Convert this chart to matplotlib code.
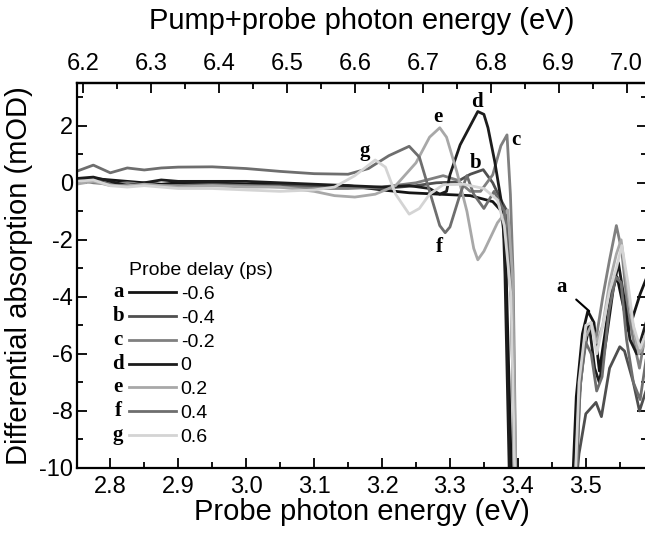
import numpy as np
import matplotlib
matplotlib.use("Agg")
import matplotlib.pyplot as plt
from matplotlib.ticker import MultipleLocator

plt.rcParams['font.family'] = ['Liberation Sans', 'DejaVu Sans']

# ---------------- data ----------------
series_letters = ['a', 'b', 'c', 'd', 'e', 'f', 'g']
delays = ['-0.6', '-0.4', '-0.2', '0', '0.2', '0.4', '0.6']
colors = ['#141414', '#4f4f4f', '#808080', '#1c1c1c', '#a8a8a8', '#6e6e6e', '#d4d4d4']

flat_x = [2.75, 2.775, 2.80, 2.825, 2.85, 2.875, 2.90, 2.95, 3.00, 3.05, 3.10]

a_flat = [0.10, 0.15, 0.10, 0.05, 0.00, -0.05, 0.00, 0.00, -0.05, -0.05, -0.10]
a_x = [3.15, 3.20, 3.24, 3.285, 3.33, 3.363, 3.376, 3.382, 3.39, 3.393]
a_y = [-0.10, -0.25, -0.35, -0.40, -0.45, -0.66, -1.0, -2.4, -9.8, -12]
a_rx = [3.478, 3.486, 3.495, 3.503, 3.512, 3.52, 3.53, 3.538, 3.546, 3.555, 3.563, 3.572, 3.58, 3.59]
a_ry = [-12, -7.5, -5.3, -4.5, -4.9, -6.6, -5.0, -3.8, -3.3, -4.3, -5.2, -4.5, -3.9, -3.3]

b_flat = [0.00, 0.10, -0.05, -0.10, -0.05, -0.10, -0.10, -0.05, -0.10, -0.10, -0.10]
b_x = [3.15, 3.20, 3.25, 3.28, 3.31, 3.33, 3.349, 3.363, 3.375, 3.384, 3.39, 3.396]
b_y = [-0.15, -0.20, -0.10, 0.00, 0.03, 0.30, 0.46, 0.00, -0.60, -1.0, -3.5, -12]
b_rx = [3.48, 3.49, 3.50, 3.515, 3.523, 3.535, 3.55, 3.557, 3.57, 3.579, 3.59]
b_ry = [-12, -9.5, -8.1, -7.7, -8.2, -6.5, -5.75, -5.9, -7.0, -8.0, -7.2]

c_flat = [0.10, 0.00, -0.05, 0.00, -0.05, -0.10, -0.10, -0.10, -0.10, -0.15, -0.20]
c_x = [3.15, 3.20, 3.25, 3.29, 3.31, 3.33, 3.345, 3.363, 3.375, 3.384, 3.389, 3.393, 3.398]
c_y = [-0.20, -0.15, 0.00, 0.25, 0.10, -0.30, -0.30, 0.28, 1.30, 1.68, -0.4, -3.2, -12]
c_rx = [3.483, 3.492, 3.50, 3.508, 3.515, 3.525, 3.535, 3.545, 3.553, 3.562, 3.57, 3.579, 3.59]
c_ry = [-12, -7.0, -5.2, -4.9, -5.5, -4.0, -2.7, -1.5, -2.4, -4.5, -5.5, -6.5, -5.0]

d_flat = [0.15, 0.20, 0.05, -0.10, 0.00, 0.10, 0.05, 0.05, 0.05, 0.00, -0.05]
d_x = [3.15, 3.20, 3.24, 3.27, 3.285, 3.295, 3.30, 3.315, 3.341, 3.35, 3.356, 3.366, 3.378, 3.381, 3.389]
d_y = [-0.10, -0.15, -0.10, -0.20, -0.40, -0.30, 0.28, 1.33, 2.50, 2.40, 1.93, 0.74, -1.0, -3.2, -12]
d_rx = [3.48, 3.488, 3.497, 3.505, 3.513, 3.52, 3.53, 3.54, 3.548, 3.556, 3.565, 3.575, 3.59]
d_ry = [-12, -8.0, -6.0, -5.0, -6.5, -7.0, -5.5, -3.8, -2.8, -4.0, -5.5, -6.0, -4.8]

e_flat = [-0.05, 0.05, -0.10, -0.10, -0.05, -0.10, -0.15, -0.10, -0.15, -0.15, -0.30]
e_x = [3.13, 3.16, 3.19, 3.22, 3.25, 3.27, 3.285, 3.295, 3.31, 3.325, 3.335, 3.341, 3.35, 3.37, 3.385, 3.392, 3.398]
e_y = [-0.45, -0.50, -0.40, -0.10, 0.70, 1.60, 1.93, 1.60, 0.40, -1.0, -2.3, -2.7, -2.4, -1.4, -0.95, -3.2, -12]
e_rx = [3.482, 3.49, 3.50, 3.508, 3.516, 3.525, 3.535, 3.545, 3.552, 3.56, 3.568, 3.578, 3.59]
e_ry = [-12, -7.5, -5.4, -5.0, -5.6, -5.0, -3.5, -2.5, -2.0, -3.5, -4.8, -6.0, -5.5]

f_flat = [0.40, 0.62, 0.35, 0.52, 0.45, 0.52, 0.55, 0.56, 0.50, 0.40, 0.32]
f_x = [3.15, 3.18, 3.21, 3.24, 3.255, 3.27, 3.285, 3.293, 3.30, 3.315, 3.325, 3.335, 3.35, 3.365, 3.38, 3.39, 3.397]
f_y = [0.30, 0.50, 0.95, 1.28, 0.90, -0.30, -1.50, -1.75, -1.55, -0.40, 0.25, -0.40, -0.90, -0.30, -1.0, -4.0, -12]
f_rx = [3.483, 3.492, 3.50, 3.508, 3.516, 3.524, 3.534, 3.544, 3.552, 3.56, 3.57, 3.58, 3.59]
f_ry = [-12, -7.0, -5.6, -6.0, -7.3, -6.8, -4.5, -3.3, -3.5, -5.5, -7.0, -7.6, -6.0]

g_flat = [0.05, 0.10, -0.10, -0.15, -0.10, -0.15, -0.20, -0.20, -0.25, -0.30, -0.25]
g_x = [3.13, 3.16, 3.19, 3.205, 3.22, 3.24, 3.255, 3.27, 3.29, 3.32, 3.35, 3.37, 3.38, 3.39, 3.397]
g_y = [-0.15, 0.25, 0.80, 0.55, -0.40, -1.10, -0.90, -0.40, -0.07, -0.05, -0.20, -0.60, -1.5, -4.0, -12]
g_rx = [3.482, 3.49, 3.50, 3.508, 3.516, 3.525, 3.535, 3.545, 3.553, 3.562, 3.57, 3.58, 3.59]
g_ry = [-12, -7.0, -5.0, -4.9, -6.0, -5.0, -3.8, -3.0, -2.2, -3.5, -5.0, -5.8, -5.2]

pump_energy = 3.44  # offset between top and bottom axes (eV)

# curve label positions
label_pos = {'g': (3.175, 1.1), 'e': (3.282, 2.3), 'f': (3.285, -2.25),
             'd': (3.34, 2.85), 'b': (3.337, 0.7), 'c': (3.397, 1.5)}
a_text = (3.465, -3.65)
a_point = (3.505, -4.5)

data = {
    'a': (a_flat, a_x, a_y, a_rx, a_ry),
    'b': (b_flat, b_x, b_y, b_rx, b_ry),
    'c': (c_flat, c_x, c_y, c_rx, c_ry),
    'd': (d_flat, d_x, d_y, d_rx, d_ry),
    'e': (e_flat, e_x, e_y, e_rx, e_ry),
    'f': (f_flat, f_x, f_y, f_rx, f_ry),
    'g': (g_flat, g_x, g_y, g_rx, g_ry),
}

# ---------------- figure ----------------
fig = plt.figure(figsize=(6.45, 5.33), dpi=100)
ax = fig.add_axes([0.1194, 0.122, 0.8836, 0.7223])

handles = []
for letter, lab, col in zip(series_letters, delays, colors):
    fl, x1, y1, rx, ry = data[letter]
    xs = list(flat_x) + list(x1) + [np.nan] + list(rx)
    ys = list(fl) + list(y1) + [np.nan] + list(ry)
    ln, = ax.plot(xs, ys, color=col, lw=2.0, solid_joinstyle='round', label=lab)
    handles.append(ln)

ax.set_xlim(2.751, 3.59)
ax.set_ylim(-10, 3.5)

serif_bold = dict(family=['Liberation Serif', 'DejaVu Serif'], fontweight='bold', fontsize=15)
for k, (lx, ly) in label_pos.items():
    ax.text(lx, ly, k, ha='center', va='center', **serif_bold)
ax.annotate('a', xy=a_point, xytext=a_text, ha='center', va='center',
            arrowprops=dict(arrowstyle='-', color='black', lw=1.5,
                            shrinkA=6, shrinkB=0), **serif_bold)

# ticks
ax.xaxis.set_major_locator(MultipleLocator(0.1))
ax.xaxis.set_minor_locator(MultipleLocator(0.05))
ax.yaxis.set_major_locator(MultipleLocator(2))
ax.yaxis.set_minor_locator(MultipleLocator(1))
ax.xaxis.set_major_formatter(plt.FuncFormatter(lambda v, p: f"{v:.1f}"))
ax.yaxis.set_major_formatter(plt.FuncFormatter(lambda v, p: f"{v:.0f}"))
ax.tick_params(which='both', direction='in', right=True, labelsize=17, width=1.3)
ax.tick_params(which='major', length=7, pad=6)
ax.tick_params(which='minor', length=4)
ax.tick_params(axis='y', which='major', pad=3)
for s in ax.spines.values():
    s.set_linewidth(1.6)

sec = ax.secondary_xaxis('top', functions=(lambda x: x + pump_energy, lambda x: x - pump_energy))
sec.xaxis.set_major_locator(MultipleLocator(0.1))
sec.xaxis.set_minor_locator(MultipleLocator(0.05))
sec.xaxis.set_major_formatter(plt.FuncFormatter(lambda v, p: f"{v:.1f}"))
sec.tick_params(which='both', direction='in', labelsize=17, width=1.3)
sec.tick_params(which='major', length=7, pad=6)
sec.tick_params(which='minor', length=4)
sec.spines['top'].set_linewidth(1.6)
sec.set_xlabel('Pump+probe photon energy (eV)', fontsize=21, labelpad=17)

ax.set_xlabel('Probe photon energy (eV)', fontsize=21, labelpad=0)
ax.set_ylabel('Differential absorption (mOD)', fontsize=21, labelpad=4)

leg = ax.legend(handles=handles, labels=delays, title='Probe delay (ps)',
                loc='upper left', bbox_to_anchor=(0.0915, 0.535),
                frameon=False, fontsize=14, title_fontsize=14,
                handlelength=2.4, handletextpad=0.25, labelspacing=0.32,
                borderpad=0, borderaxespad=0, alignment='left')

fig.canvas.draw()
inv = fig.transFigure.inverted()
for line, letter in zip(leg.get_lines(), series_letters):
    bb = line.get_window_extent(fig.canvas.get_renderer())
    xf, yf = inv.transform((bb.x0 - 11, (bb.y0 + bb.y1) / 2))
    fig.text(xf, yf, letter, ha='center', va='center', **serif_bold)

fig.savefig('out.png', dpi=100)
